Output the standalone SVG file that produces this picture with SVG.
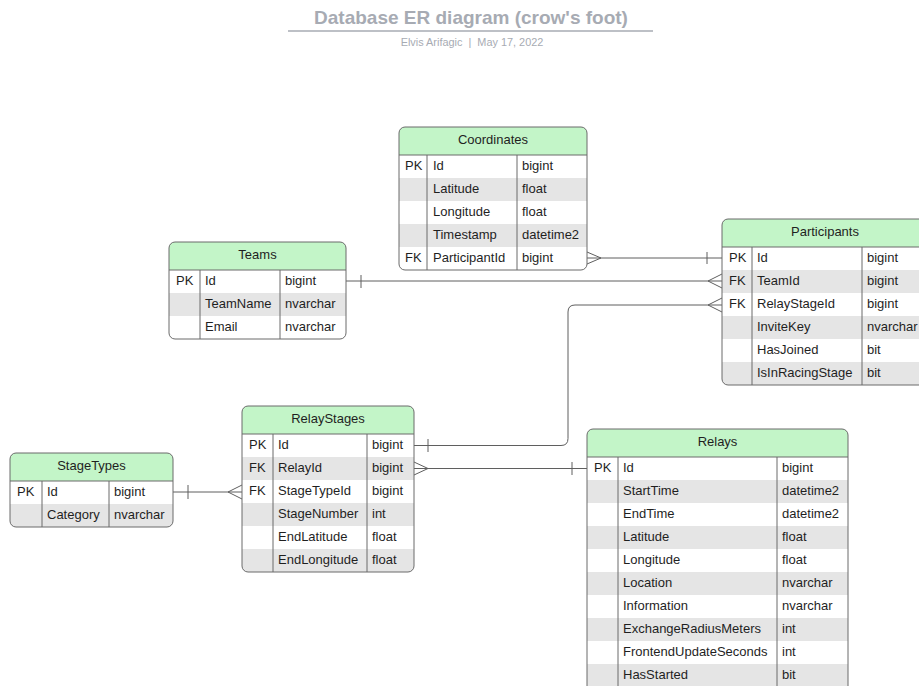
<svg xmlns="http://www.w3.org/2000/svg" width="919" height="686" viewBox="0 0 919 686">
  <style>
    .title { font-family: "Liberation Sans", Arial, sans-serif; font-size: 19px; font-weight: bold; fill: #a7abb3; }
    .sub { font-family: "Liberation Sans", Arial, sans-serif; font-size: 10.9px; fill: #a7abb3; white-space: pre; }
    text.t { font-family: "Liberation Sans", Arial, sans-serif; font-size: 13px; fill: #1f1f1f; }
    text.h { text-anchor: middle; }
    .bg { fill: #ffffff; }
    .head { fill: #c3f5c8; }
    .alt { fill: #e5e5e5; }
    .frame { fill: none; stroke: #6b6b6b; stroke-width: 1; }
    .grid { stroke: #6b6b6b; stroke-width: 1; }
    .conn path, .conn line { fill: none; stroke: #5f5f5f; stroke-width: 1; }
  </style>
  <defs>
    <clipPath id="clipCoordinates"><rect x="399" y="127" width="188" height="143" rx="6"/></clipPath>
    <clipPath id="clipTeams"><rect x="169" y="242" width="177" height="97" rx="6"/></clipPath>
    <clipPath id="clipParticipants"><rect x="722" y="219" width="210" height="166" rx="6"/></clipPath>
    <clipPath id="clipRelayStages"><rect x="242" y="406" width="172" height="166" rx="6"/></clipPath>
    <clipPath id="clipStageTypes"><rect x="10" y="453" width="163" height="74" rx="6"/></clipPath>
    <clipPath id="clipRelays"><rect x="587" y="429" width="261" height="270" rx="6"/></clipPath>
  </defs>

  <!-- title block -->
  <g id="title">
    <text class="title" x="471" y="24" text-anchor="middle">Database ER diagram (crow's foot)</text>
    <line x1="288" y1="31" x2="653" y2="31" stroke="#a7abb3" stroke-width="1.5"/>
    <text class="sub" x="472" y="46" text-anchor="middle" xml:space="preserve">Elvis Arifagic  |  May 17, 2022</text>
  </g>

  <!-- relationships -->
  <g id="connectors" class="conn">
    <!-- Coordinates.ParticipantId >- Participants.Id -->
    <line x1="587" y1="258" x2="722" y2="258"/>
    <path d="M587,252 L601,258 L587,264"/>
    <line x1="707" y1="252" x2="707" y2="264"/>
    <!-- Teams.Id -< Participants.TeamId -->
    <line x1="346" y1="281" x2="722" y2="281"/>
    <line x1="361" y1="275" x2="361" y2="288"/>
    <path d="M722,274 L708,281 L722,288"/>
    <!-- RelayStages.Id -< Participants.RelayStageId -->
    <path d="M414,445.5 H561 Q568,445.5 568,438.5 V312 Q568,305 575,305 H722"/>
    <line x1="428" y1="439" x2="428" y2="452"/>
    <path d="M722,298 L708,305 L722,312"/>
    <!-- RelayStages.RelayId >- Relays.Id -->
    <line x1="414" y1="468.5" x2="587" y2="468.5"/>
    <path d="M414,462 L428,468.5 L414,475"/>
    <line x1="572" y1="462" x2="572" y2="475"/>
    <!-- StageTypes.Id -< RelayStages.StageTypeId -->
    <line x1="173" y1="492" x2="242" y2="492"/>
    <line x1="188" y1="485" x2="188" y2="499"/>
    <path d="M242,485 L228,492 L242,499"/>
  </g>

  <!-- Coordinates -->
  <g id="coordinates">
    <g clip-path="url(#clipCoordinates)">
      <rect class="bg" x="399" y="127" width="188" height="143"/>
      <rect class="head" x="399" y="127" width="188" height="28"/>
      <rect class="alt" x="399" y="178" width="188" height="23"/>
      <rect class="alt" x="399" y="224" width="188" height="23"/>
    </g>
    <line class="grid" x1="399" y1="155" x2="587" y2="155"/>
    <line class="grid" x1="427" y1="155" x2="427" y2="270"/>
    <line class="grid" x1="517" y1="155" x2="517" y2="270"/>
    <rect class="frame" x="399" y="127" width="188" height="143" rx="6"/>
    <text class="t h" x="493" y="144">Coordinates</text>
    <text class="t" x="405" y="170">PK</text><text class="t" x="433" y="170">Id</text><text class="t" x="522" y="170">bigint</text>
    <text class="t" x="433" y="193">Latitude</text><text class="t" x="522" y="193">float</text>
    <text class="t" x="433" y="216">Longitude</text><text class="t" x="522" y="216">float</text>
    <text class="t" x="433" y="239">Timestamp</text><text class="t" x="522" y="239">datetime2</text>
    <text class="t" x="405" y="262">FK</text><text class="t" x="433" y="262">ParticipantId</text><text class="t" x="522" y="262">bigint</text>
  </g>

  <!-- Teams -->
  <g id="teams">
    <g clip-path="url(#clipTeams)">
      <rect class="bg" x="169" y="242" width="177" height="97"/>
      <rect class="head" x="169" y="242" width="177" height="28"/>
      <rect class="alt" x="169" y="293" width="177" height="23"/>
    </g>
    <line class="grid" x1="169" y1="270" x2="346" y2="270"/>
    <line class="grid" x1="200" y1="270" x2="200" y2="339"/>
    <line class="grid" x1="280" y1="270" x2="280" y2="339"/>
    <rect class="frame" x="169" y="242" width="177" height="97" rx="6"/>
    <text class="t h" x="257.5" y="259">Teams</text>
    <text class="t" x="176" y="285">PK</text><text class="t" x="205" y="285">Id</text><text class="t" x="285" y="285">bigint</text>
    <text class="t" x="205" y="308">TeamName</text><text class="t" x="285" y="308">nvarchar</text>
    <text class="t" x="205" y="331">Email</text><text class="t" x="285" y="331">nvarchar</text>
  </g>

  <!-- Participants -->
  <g id="participants">
    <g clip-path="url(#clipParticipants)">
      <rect class="bg" x="722" y="219" width="210" height="166"/>
      <rect class="head" x="722" y="219" width="210" height="28"/>
      <rect class="alt" x="722" y="270" width="210" height="23"/>
      <rect class="alt" x="722" y="316" width="210" height="23"/>
      <rect class="alt" x="722" y="362" width="210" height="23"/>
    </g>
    <line class="grid" x1="722" y1="247" x2="932" y2="247"/>
    <line class="grid" x1="752" y1="247" x2="752" y2="385"/>
    <line class="grid" x1="862" y1="247" x2="862" y2="385"/>
    <rect class="frame" x="722" y="219" width="210" height="166" rx="6"/>
    <text class="t h" x="825" y="236">Participants</text>
    <text class="t" x="729" y="262">PK</text><text class="t" x="757" y="262">Id</text><text class="t" x="867" y="262">bigint</text>
    <text class="t" x="729" y="285">FK</text><text class="t" x="757" y="285">TeamId</text><text class="t" x="867" y="285">bigint</text>
    <text class="t" x="729" y="308">FK</text><text class="t" x="757" y="308">RelayStageId</text><text class="t" x="867" y="308">bigint</text>
    <text class="t" x="757" y="331">InviteKey</text><text class="t" x="867" y="331">nvarchar</text>
    <text class="t" x="757" y="354">HasJoined</text><text class="t" x="867" y="354">bit</text>
    <text class="t" x="757" y="377">IsInRacingStage</text><text class="t" x="867" y="377">bit</text>
  </g>

  <!-- RelayStages -->
  <g id="relaystages">
    <g clip-path="url(#clipRelayStages)">
      <rect class="bg" x="242" y="406" width="172" height="166"/>
      <rect class="head" x="242" y="406" width="172" height="28"/>
      <rect class="alt" x="242" y="457" width="172" height="23"/>
      <rect class="alt" x="242" y="503" width="172" height="23"/>
      <rect class="alt" x="242" y="549" width="172" height="23"/>
    </g>
    <line class="grid" x1="242" y1="434" x2="414" y2="434"/>
    <line class="grid" x1="273" y1="434" x2="273" y2="572"/>
    <line class="grid" x1="367" y1="434" x2="367" y2="572"/>
    <rect class="frame" x="242" y="406" width="172" height="166" rx="6"/>
    <text class="t h" x="328" y="423">RelayStages</text>
    <text class="t" x="249" y="449">PK</text><text class="t" x="278" y="449">Id</text><text class="t" x="372" y="449">bigint</text>
    <text class="t" x="249" y="472">FK</text><text class="t" x="278" y="472">RelayId</text><text class="t" x="372" y="472">bigint</text>
    <text class="t" x="249" y="495">FK</text><text class="t" x="278" y="495">StageTypeId</text><text class="t" x="372" y="495">bigint</text>
    <text class="t" x="278" y="518">StageNumber</text><text class="t" x="372" y="518">int</text>
    <text class="t" x="278" y="541">EndLatitude</text><text class="t" x="372" y="541">float</text>
    <text class="t" x="278" y="564">EndLongitude</text><text class="t" x="372" y="564">float</text>
  </g>

  <!-- StageTypes -->
  <g id="stagetypes">
    <g clip-path="url(#clipStageTypes)">
      <rect class="bg" x="10" y="453" width="163" height="74"/>
      <rect class="head" x="10" y="453" width="163" height="28"/>
      <rect class="alt" x="10" y="504" width="163" height="23"/>
    </g>
    <line class="grid" x1="10" y1="481" x2="173" y2="481"/>
    <line class="grid" x1="42" y1="481" x2="42" y2="527"/>
    <line class="grid" x1="109" y1="481" x2="109" y2="527"/>
    <rect class="frame" x="10" y="453" width="163" height="74" rx="6"/>
    <text class="t h" x="91.5" y="470">StageTypes</text>
    <text class="t" x="17" y="496">PK</text><text class="t" x="47" y="496">Id</text><text class="t" x="114" y="496">bigint</text>
    <text class="t" x="47" y="519">Category</text><text class="t" x="114" y="519">nvarchar</text>
  </g>

  <!-- Relays -->
  <g id="relays">
    <g clip-path="url(#clipRelays)">
      <rect class="bg" x="587" y="429" width="261" height="270"/>
      <rect class="head" x="587" y="429" width="261" height="28"/>
      <rect class="alt" x="587" y="480" width="261" height="23"/>
      <rect class="alt" x="587" y="526" width="261" height="23"/>
      <rect class="alt" x="587" y="572" width="261" height="23"/>
      <rect class="alt" x="587" y="618" width="261" height="23"/>
      <rect class="alt" x="587" y="664" width="261" height="23"/>
    </g>
    <line class="grid" x1="587" y1="457" x2="848" y2="457"/>
    <line class="grid" x1="618" y1="457" x2="618" y2="699"/>
    <line class="grid" x1="777" y1="457" x2="777" y2="699"/>
    <rect class="frame" x="587" y="429" width="261" height="270" rx="6"/>
    <text class="t h" x="717.5" y="446">Relays</text>
    <text class="t" x="594" y="472">PK</text><text class="t" x="623" y="472">Id</text><text class="t" x="782" y="472">bigint</text>
    <text class="t" x="623" y="495">StartTime</text><text class="t" x="782" y="495">datetime2</text>
    <text class="t" x="623" y="518">EndTime</text><text class="t" x="782" y="518">datetime2</text>
    <text class="t" x="623" y="541">Latitude</text><text class="t" x="782" y="541">float</text>
    <text class="t" x="623" y="564">Longitude</text><text class="t" x="782" y="564">float</text>
    <text class="t" x="623" y="587">Location</text><text class="t" x="782" y="587">nvarchar</text>
    <text class="t" x="623" y="610">Information</text><text class="t" x="782" y="610">nvarchar</text>
    <text class="t" x="623" y="633">ExchangeRadiusMeters</text><text class="t" x="782" y="633">int</text>
    <text class="t" x="623" y="656">FrontendUpdateSeconds</text><text class="t" x="782" y="656">int</text>
    <text class="t" x="623" y="679">HasStarted</text><text class="t" x="782" y="679">bit</text>
  </g>
</svg>
